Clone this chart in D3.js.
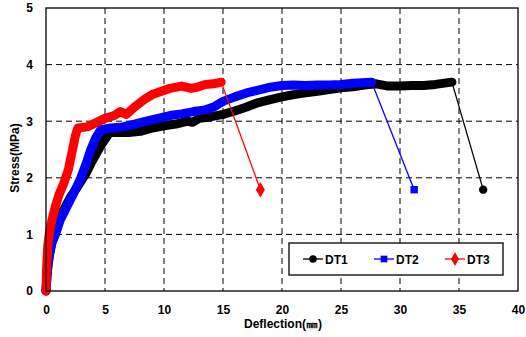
<!DOCTYPE html>
<html>
<head>
<meta charset="utf-8">
<script src="https://cdn.jsdelivr.net/npm/d3@7"></script>
<style>
	body { margin: 0; background: #fff; }
	text { font-family: "Liberation Sans", Arial, sans-serif; }
</style>
</head>
<body>
<svg id="chart" width="526" height="337"></svg>
<script>
// deflection (mm), stress (MPa)
let dt1 = [[0,0],[0.1,0.3],[0.2,0.5],[0.35,0.7],[0.5,0.85],[0.7,1.0],[1.0,1.2],[1.4,1.4],[1.8,1.55],[2.2,1.7],
	[2.6,1.82],[3.0,1.95],[3.4,2.08],[3.8,2.25],[4.2,2.4],[4.6,2.55],[5.0,2.68],[5.4,2.8],[6,2.8],[7,2.8],
	[8,2.82],[9,2.88],[10,2.92],[11,2.95],[12,3.0],[12.4,2.98],[13,3.05],[14,3.08],[15,3.12],[16,3.18],[17,3.25],
	[18,3.33],[19,3.38],[20,3.43],[21,3.47],[22,3.5],[23,3.53],[24,3.56],[25,3.59],[26,3.61],[27,3.64],
	[28,3.66],[29,3.62],[30,3.62],[31,3.63],[32,3.63],[33,3.65],[34.4,3.69],[37.05,1.79]];
let dt2 = [[0,0],[0.1,0.35],[0.25,0.6],[0.5,0.85],[0.8,1.0],[1.2,1.25],[1.8,1.5],[2.4,1.75],[2.95,2.0],
	[3.4,2.25],[3.8,2.5],[4.2,2.7],[4.65,2.85],[5.5,2.88],[6.5,2.9],[7.5,2.95],[8.5,3.0],[9.5,3.05],
	[10.5,3.1],[11.5,3.13],[12.5,3.17],[13.5,3.2],[14.2,3.25],[15,3.35],[16,3.43],[17,3.5],[18,3.55],
	[19,3.6],[20,3.63],[21,3.64],[22,3.63],[23,3.64],[24,3.64],[25,3.65],[26,3.67],[27.6,3.69],[31.2,1.79]];
let dt3 = [[0,0],[0.05,0.4],[0.15,0.8],[0.3,1.05],[0.5,1.25],[0.8,1.5],[1.1,1.7],[1.5,1.9],[1.9,2.15],
	[2.2,2.45],[2.5,2.75],[2.7,2.88],[3.5,2.9],[4.2,2.97],[5,3.05],[5.8,3.1],[6.3,3.17],[6.8,3.12],
	[7.5,3.25],[8.3,3.38],[9,3.47],[9.8,3.53],[10.5,3.58],[11.5,3.62],[12.3,3.58],[12.8,3.6],[13.5,3.65],
	[14.2,3.66],[14.85,3.69],[18.17,1.79]];

let seriesNames = ['DT1', 'DT2', 'DT3'];
let seriesColors = ['#000000', '#0000ff', '#ff0000'];
let seriesSymbols = [d3.symbolCircle, d3.symbolSquare, d3.symbolDiamond];
let xTicks = [0, 5, 10, 15, 20, 25, 30, 35, 40];
let yTicks = [0, 1, 2, 3, 4, 5];

let svg = d3.select('#chart');
let mLeft = 46, mRight = 518, mTop = 8, mBottom = 291;

let x = d3.scaleLinear().domain([0, 40]).range([mLeft, mRight]);
let y = d3.scaleLinear().domain([0, 5]).range([mBottom, mTop]);

// grid
svg.append('g')
	.selectAll('line')
	.data(xTicks.slice(1, -1))
	.enter()
	.append('line')
	.attr('x1', d => x(d)).attr('x2', d => x(d))
	.attr('y1', mTop).attr('y2', mBottom)
	.attr('stroke', '#000').attr('stroke-width', 1)
	.attr('stroke-dasharray', '6,4');

svg.append('g')
	.selectAll('line')
	.data(yTicks.slice(1, -1))
	.enter()
	.append('line')
	.attr('x1', mLeft).attr('x2', mRight)
	.attr('y1', d => y(d)).attr('y2', d => y(d))
	.attr('stroke', '#000').attr('stroke-width', 1)
	.attr('stroke-dasharray', '6,4');

// axes labels
let xAxis = svg.append('g')
	.attr('transform', 'translate(0,' + mBottom + ')')
	.call(d3.axisBottom(x).tickValues(xTicks).tickFormat(d3.format('d')).tickSize(0).tickPadding(14));
let yAxis = svg.append('g')
	.attr('transform', 'translate(' + mLeft + ',0)')
	.call(d3.axisLeft(y).tickValues(yTicks).tickFormat(d3.format('d')).tickSize(0).tickPadding(13));
[xAxis, yAxis].forEach(function(a) {
	a.select('.domain').remove();
	a.selectAll('text')
		.attr('font-family', '"Liberation Sans", Arial, sans-serif')
		.attr('font-size', 12)
		.attr('font-weight', 'bold')
		.attr('fill', '#000');
});

let line = d3.line().x(d => x(d[0])).y(d => y(d[1]));
let allSeries = [dt1, dt2, dt3];

allSeries.forEach(function(data, i) {
	let dense = data.slice(0, -1);
	let tail = data.slice(-2);
	let g = svg.append('g');
	g.append('path')
		.attr('d', line(tail))
		.attr('fill', 'none')
		.attr('stroke', seriesColors[i])
		.attr('stroke-width', 1.3);
	g.append('path')
		.attr('d', line(dense))
		.attr('fill', 'none')
		.attr('stroke', seriesColors[i])
		.attr('stroke-width', 9)
		.attr('stroke-linejoin', 'round')
		.attr('stroke-linecap', 'round');
	let last = data[data.length - 1];
	g.append('path')
		.attr('d', d3.symbol().type(seriesSymbols[i]).size(i == 2 ? 70 : 55)())
		.attr('transform', 'translate(' + x(last[0]) + ',' + y(last[1]) + ')')
		.attr('fill', seriesColors[i]);
});

// frame
svg.append('rect')
	.attr('x', mLeft).attr('y', mTop)
	.attr('width', mRight - mLeft).attr('height', mBottom - mTop)
	.attr('fill', 'none').attr('stroke', '#000').attr('stroke-width', 1.3);

svg.append('text')
	.attr('x', 283).attr('y', 328)
	.attr('text-anchor', 'middle')
	.attr('font-size', 12)
	.attr('font-weight', 'bold')
	.text('Deflection(㎜)');

svg.append('text')
	.attr('transform', 'translate(19,158) rotate(-90)')
	.attr('text-anchor', 'middle')
	.attr('font-size', 12)
	.attr('font-weight', 'bold')
	.text('Stress(MPa)');

// legend
let legend = svg.append('g');
legend.append('rect')
	.attr('x', 289).attr('y', 243)
	.attr('width', 214).attr('height', 32)
	.attr('fill', '#fff').attr('stroke', '#000').attr('stroke-width', 1.3);

let legendX = [303, 374, 445];
seriesNames.forEach(function(name, i) {
	let lx = legendX[i];
	legend.append('line')
		.attr('x1', lx).attr('x2', lx + 20)
		.attr('y1', 259).attr('y2', 259)
		.attr('stroke', seriesColors[i]).attr('stroke-width', 1.3);
	legend.append('path')
		.attr('d', d3.symbol().type(seriesSymbols[i]).size(i == 2 ? 55 : 45)())
		.attr('transform', 'translate(' + (lx + 10) + ',259)')
		.attr('fill', seriesColors[i]);
	legend.append('text')
		.attr('x', lx + 22).attr('y', 263.5)
		.attr('font-size', 12)
		.attr('font-weight', 'bold')
		.text(name);
});
</script>
</body>
</html>
